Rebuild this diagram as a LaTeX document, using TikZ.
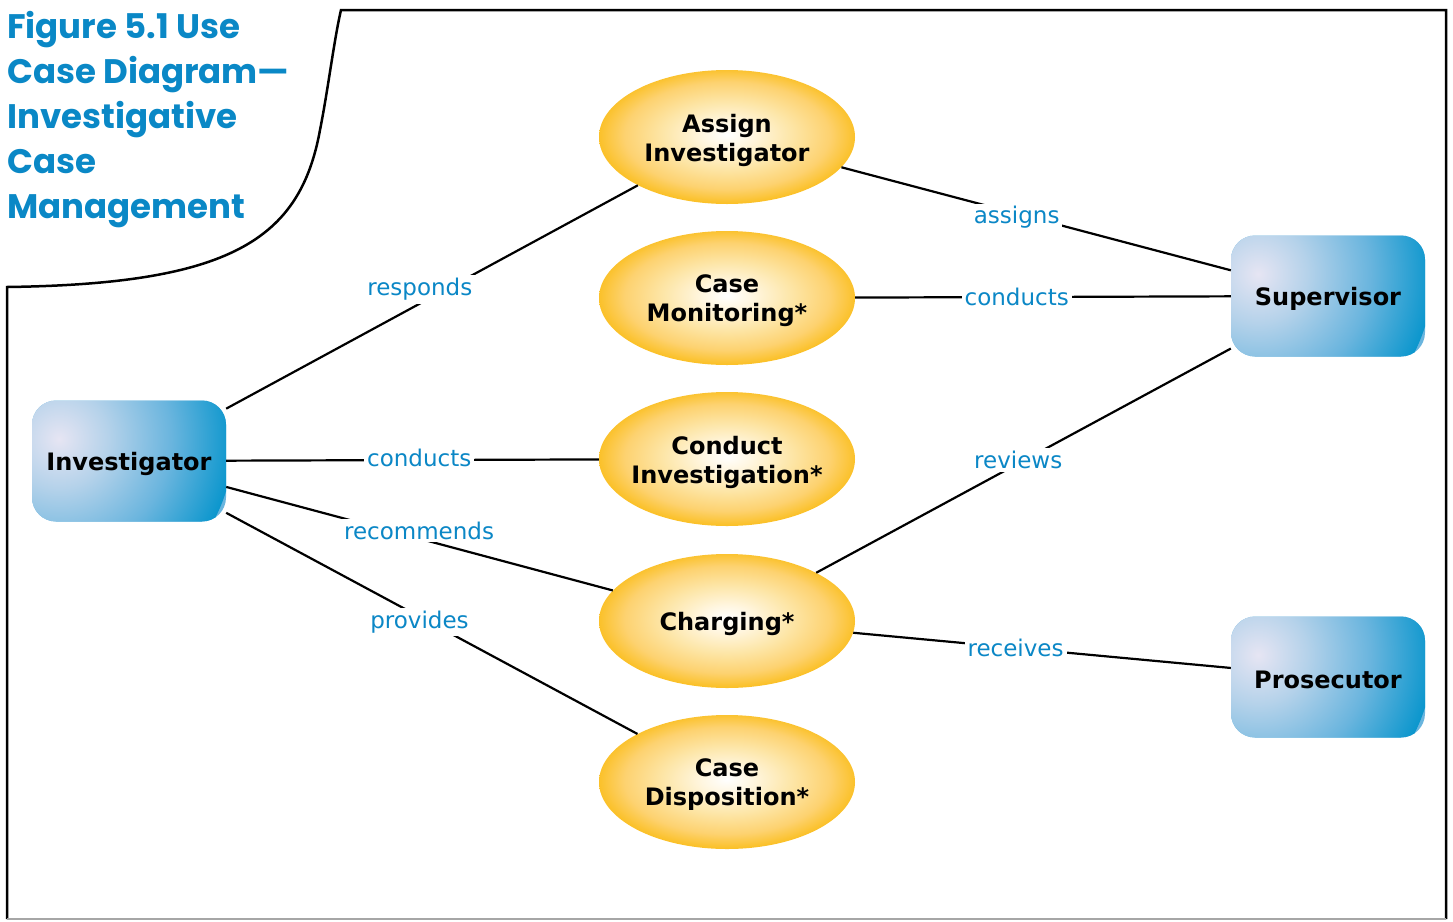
\documentclass[tikz,border=0pt]{standalone}
\usepackage{fontspec}
\setmainfont{DejaVu Sans}
\newfontfamily\titlefont{Poppins}
\usetikzlibrary{shapes.geometric}
\definecolor{lblblue}{HTML}{0B87C6}
\definecolor{ttlblue}{HTML}{0A88C6}
\definecolor{ucgold}{HTML}{FBC12A}
\definecolor{ucdeep}{HTML}{FDD270}
\definecolor{ucmid}{HTML}{FDE6A8}
\definecolor{uccream}{HTML}{FFF6E0}
\definecolor{actlight}{HTML}{E6E5F3}
\definecolor{actpale}{HTML}{B5D2EA}
\definecolor{actmid}{HTML}{6AB5DE}
\definecolor{actdark}{HTML}{0A96CD}
\pgfdeclareradialshading{usecaseshade}{\pgfpoint{0bp}{1bp}}{color(0bp)=(white); color(5bp)=(uccream); color(12.5bp)=(ucmid); color(20bp)=(ucdeep); color(25bp)=(ucgold); color(50bp)=(ucgold)}
\pgfdeclareradialshading{actorshade}{\pgfpointorigin}{color(0bp)=(actlight); color(7bp)=(actpale); color(16bp)=(actmid); color(25bp)=(actdark); color(50bp)=(actdark)}
\begin{document}
\begin{tikzpicture}[x=1pt,y=-1pt,
  usecase/.style={ellipse, shading=usecaseshade, minimum width=256pt, minimum height=134pt, inner sep=0pt},
  actor/.style={rectangle, rounded corners=24pt, fill=actmid, minimum width=194pt, minimum height=121pt, inner sep=0pt,
    path picture={\shade[shading=actorshade] ([shift={(-70pt,22pt)}]path picture bounding box.center) circle (175pt);}},
  nametext/.style={align=center, yshift=-3pt, font=\fontsize{24}{29}\selectfont\bfseries},
  conn/.style={draw=black, line width=2.2pt},
  lbl/.style={fill=white, text=lblblue, font=\fontsize{23}{28}\selectfont, inner sep=3pt},
  frame/.style={draw=black, line width=2.5pt}
]
\useasboundingbox (0,0) rectangle (1453,921);
% frame
\draw[frame] (7,919) -- (7,287) .. controls (230,284) and (300,240) .. (320,130) .. controls (328,90) and (334,40) .. (341,10) -- (1446,10) -- (1446,919);
\draw[gray!70, line width=1.5pt] (7,919) -- (1446,919);
% title
\node[anchor=north west, align=left, text=ttlblue, font=\titlefont\bfseries\fontsize{34}{45}\selectfont, inner sep=0pt] (title) at (7,11) {Figure 5.1 Use\\Case Diagram—\\Investigative\\Case\\Management};
% actors
\node[actor, label={[nametext]center:Investigator}] (inv) at (129,461) {};
\node[actor, label={[nametext]center:Supervisor}] (sup) at (1328,296) {};
\node[actor, label={[nametext]center:Prosecutor}] (pros) at (1328,677) {};
% use cases
\node[usecase, label={[nametext]center:Assign\\Investigator}] (assign) at (727,137) {};
\node[usecase, label={[nametext]center:Case\\Monitoring*}] (monit) at (727,298) {};
\node[usecase, label={[nametext]center:Conduct\\Investigation*}] (condinv) at (727,459) {};
\node[usecase, label={[nametext]center:Charging*}] (charg) at (727,621) {};
\node[usecase, label={[nametext]center:Case\\Disposition*}] (dispo) at (727,782) {};
% connectors
\draw[conn] (inv) -- node[lbl, pos=0.48, xshift=-4pt, yshift=12pt] {responds} (assign);
\draw[conn] (inv) -- node[lbl, pos=0.51, xshift=3pt, yshift=2pt] {conducts} (condinv);
\draw[conn] (inv) -- node[lbl, pos=0.46, xshift=15pt, yshift=4pt] {recommends} (charg);
\draw[conn] (inv) -- node[lbl, pos=0.47, yshift=-5pt] {provides} (dispo);
\draw[conn] (assign) -- node[lbl, pos=0.45, yshift=-4pt] {assigns} (sup);
\draw[conn] (monit) -- node[lbl, pos=0.43] {conducts} (sup);
\draw[conn] (charg) -- node[lbl, pos=0.48, xshift=3pt, yshift=5pt] {reviews} (sup);
\draw[conn] (charg) -- node[lbl, pos=0.43] {receives} (pros);
\end{tikzpicture}
\end{document}
